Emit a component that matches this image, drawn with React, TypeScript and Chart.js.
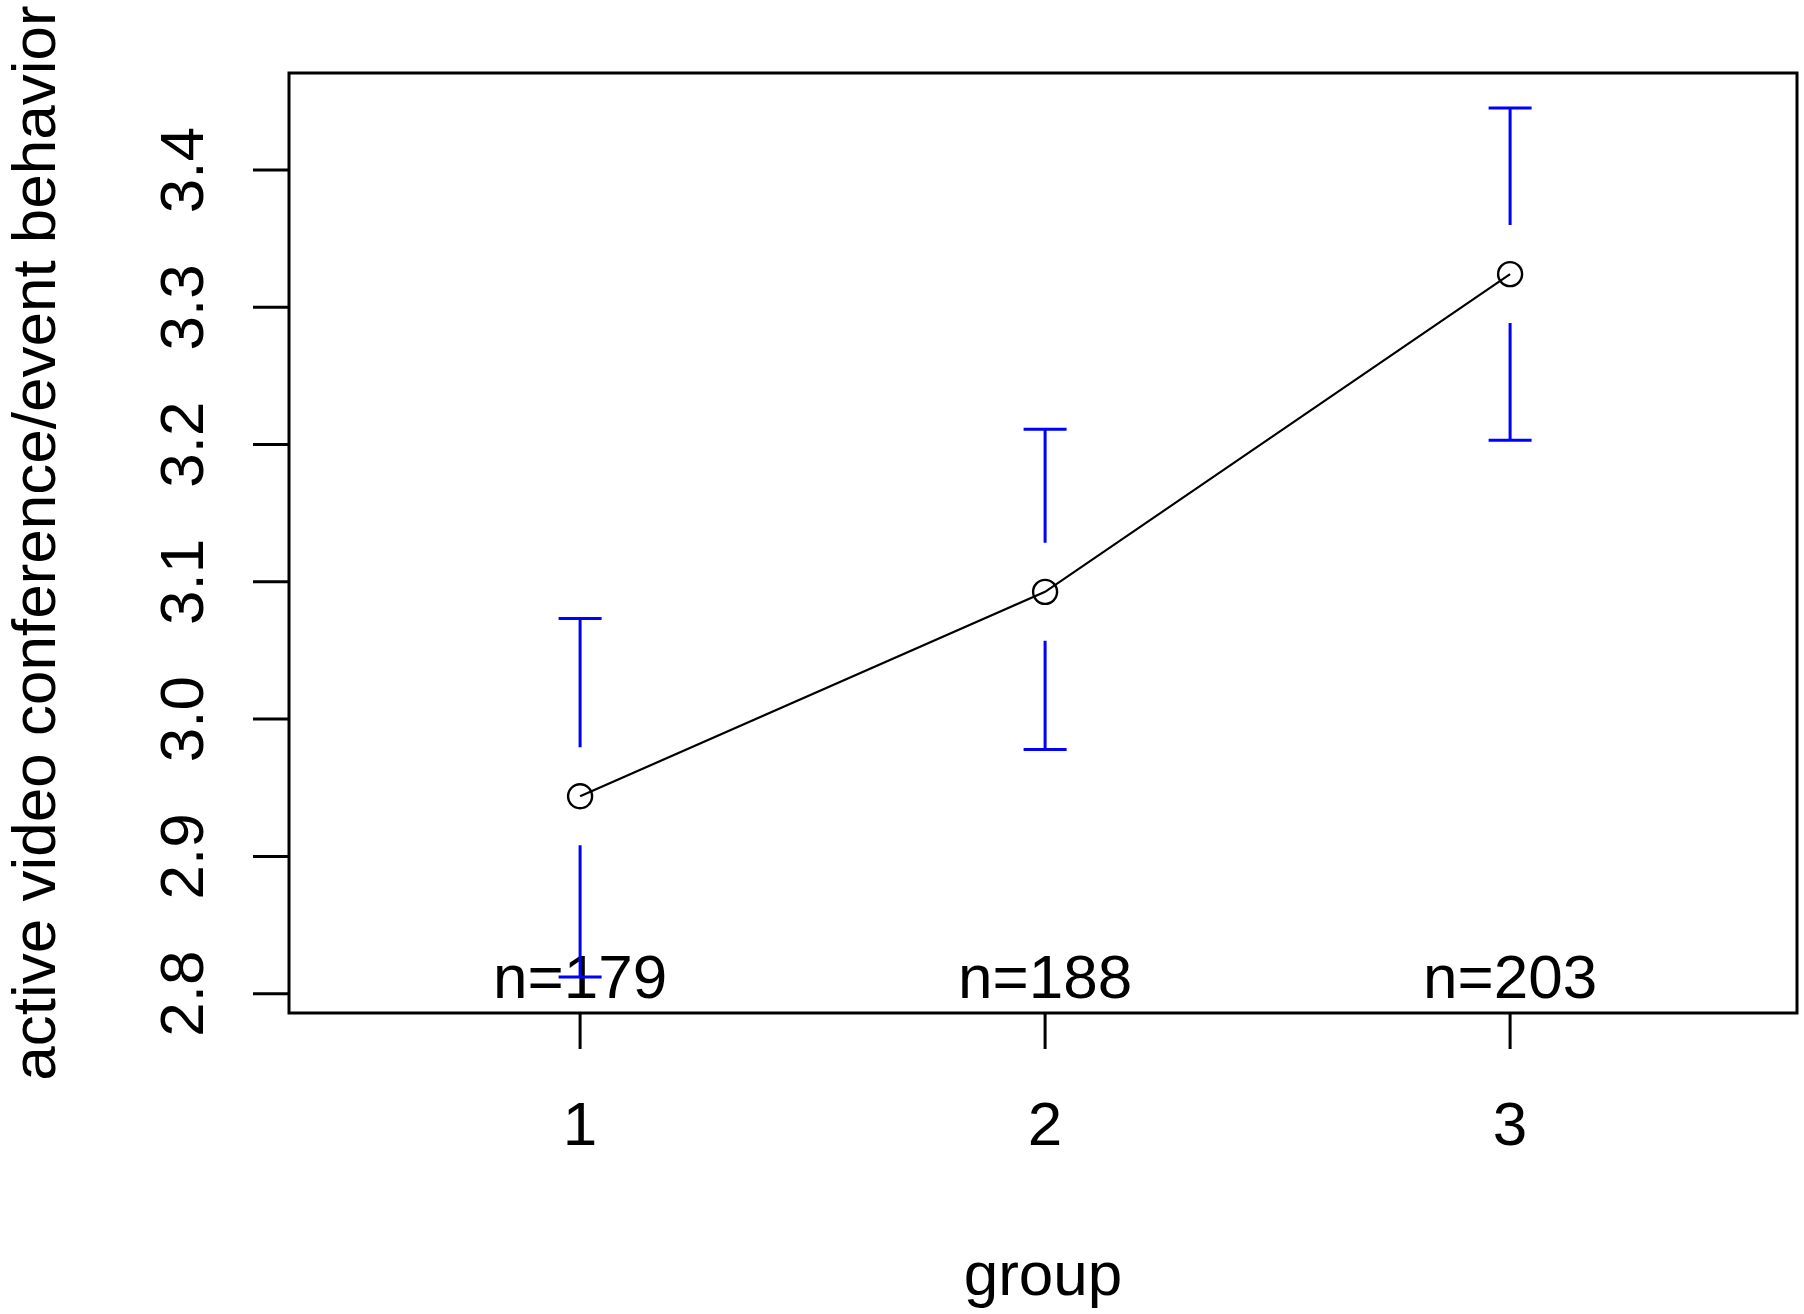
import { useEffect, useRef } from "react";
import { Chart, registerables, ChartConfiguration, Plugin } from "chart.js";

Chart.register(...registerables);

// values
const groups = [1, 2, 3];
const groupMeans = [2.9438, 3.0927, 3.3242];
const ciUpper = [3.0733, 3.2112, 3.4452];
const ciLower = [2.8121, 2.9778, 3.2032];
const nCounts = [179, 188, 203];
const xTicks = [1, 2, 3];
const yTicks = [2.8, 2.9, 3.0, 3.1, 3.2, 3.3, 3.4];

const X_MIN = 0.374;
const X_MAX = 3.617;
const Y_MIN = 2.7859;
const Y_MAX = 3.4707;

const FONT = "62px 'Liberation Sans', Arial, sans-serif";
const BAR_COLOR = "#0000ff";
const GAP = 49; // gap of the CI line around the mean, px
const CAP = 21.5;
const TICK_LEN = 36;

// R style plotmeans look: box, outside ticks, rotated y labels, CI bars, n= labels
const rPlot: Plugin<"line"> = {
  id: "rPlot",
  beforeDraw(chart) {
    const { ctx, width, height } = chart;
    ctx.save();
    ctx.fillStyle = "#fff";
    ctx.fillRect(0, 0, width, height);
    ctx.restore();
  },
  beforeDatasetsDraw(chart) {
    const { ctx } = chart;
    const xs = chart.scales.x;
    const ys = chart.scales.y;
    ctx.save();

    // n= labels
    ctx.font = FONT;
    ctx.fillStyle = "#000";
    ctx.textAlign = "center";
    ctx.textBaseline = "alphabetic";
    groups.forEach((g, i) => {
      ctx.fillText("n=" + nCounts[i], xs.getPixelForValue(g), 998);
    });

    // confidence bars
    ctx.strokeStyle = BAR_COLOR;
    ctx.lineWidth = 3;
    groups.forEach((g, i) => {
      const x = xs.getPixelForValue(g);
      const ym = ys.getPixelForValue(groupMeans[i]);
      const yu = ys.getPixelForValue(ciUpper[i]);
      const yl = ys.getPixelForValue(ciLower[i]);
      ctx.beginPath();
      ctx.moveTo(x, yu);
      ctx.lineTo(x, ym - GAP);
      ctx.moveTo(x, ym + GAP);
      ctx.lineTo(x, yl);
      ctx.moveTo(x - CAP, yu);
      ctx.lineTo(x + CAP, yu);
      ctx.moveTo(x - CAP, yl);
      ctx.lineTo(x + CAP, yl);
      ctx.stroke();
    });
    ctx.restore();
  },
  afterDraw(chart) {
    const { ctx, chartArea } = chart;
    const xs = chart.scales.x;
    const ys = chart.scales.y;
    ctx.save();
    ctx.strokeStyle = "#000";
    ctx.lineWidth = 3;
    ctx.strokeRect(chartArea.left, chartArea.top, chartArea.right - chartArea.left, chartArea.bottom - chartArea.top);

    // tick marks
    ctx.beginPath();
    xTicks.forEach((v) => {
      const x = xs.getPixelForValue(v);
      ctx.moveTo(x, chartArea.bottom);
      ctx.lineTo(x, chartArea.bottom + TICK_LEN);
    });
    yTicks.forEach((v) => {
      const y = ys.getPixelForValue(v);
      ctx.moveTo(chartArea.left, y);
      ctx.lineTo(chartArea.left - TICK_LEN, y);
    });
    ctx.stroke();

    ctx.font = FONT;
    ctx.fillStyle = "#000";
    ctx.textAlign = "center";
    ctx.textBaseline = "alphabetic";

    xTicks.forEach((v) => {
      ctx.fillText(String(v), xs.getPixelForValue(v), 1145);
    });
    ctx.fillText("group", (chartArea.left + chartArea.right) / 2, 1295);

    yTicks.forEach((v) => {
      ctx.save();
      ctx.translate(203, ys.getPixelForValue(v));
      ctx.rotate(-Math.PI / 2);
      ctx.fillText(v.toFixed(1), 0, 0);
      ctx.restore();
    });

    ctx.save();
    ctx.translate(55, (chartArea.top + chartArea.bottom) / 2);
    ctx.rotate(-Math.PI / 2);
    ctx.fillText("active video conference/event behavior", 0, 0);
    ctx.restore();

    ctx.restore();
  },
};

export default function App() {
  const canvasRef = useRef<HTMLCanvasElement>(null);

  useEffect(() => {
    if (!canvasRef.current) return;

    const config: ChartConfiguration<"line"> = {
      type: "line",
      data: {
        datasets: [
          {
            data: groups.map((g, i) => ({ x: g, y: groupMeans[i] })),
            borderColor: "#000",
            borderWidth: 2.2,
            pointRadius: 12,
            pointBorderWidth: 2.4,
            pointBorderColor: "#000",
            pointBackgroundColor: "rgba(0,0,0,0)",
            tension: 0,
            clip: false,
          },
        ],
      },
      options: {
        responsive: false,
        devicePixelRatio: 1,
        animation: false,
        layout: { autoPadding: false, padding: { top: 73, right: 7, left: 0, bottom: 0 } },
        plugins: {
          legend: { display: false },
          tooltip: { enabled: false },
        },
        scales: {
          x: {
            type: "linear",
            min: X_MIN,
            max: X_MAX,
            afterBuildTicks: (s) => {
              s.ticks = xTicks.map((v) => ({ value: v }));
            },
            afterFit: (s) => {
              s.height = 301;
            },
            ticks: { display: false },
            grid: { display: false },
            border: { display: false },
          },
          y: {
            type: "linear",
            min: Y_MIN,
            max: Y_MAX,
            afterBuildTicks: (s) => {
              s.ticks = yTicks.map((v) => ({ value: v }));
            },
            afterFit: (s) => {
              s.width = 289;
            },
            ticks: { display: false },
            grid: { display: false },
            border: { display: false },
          },
        },
      },
      plugins: [rPlot],
    };

    const chart = new Chart(canvasRef.current, config);
    return () => chart.destroy();
  }, []);

  return (
    <div style={{ position: "absolute", left: 0, top: 0, width: 1804, height: 1314, background: "#fff" }}>
      <canvas ref={canvasRef} width={1804} height={1314} style={{ display: "block" }} />
    </div>
  );
}
